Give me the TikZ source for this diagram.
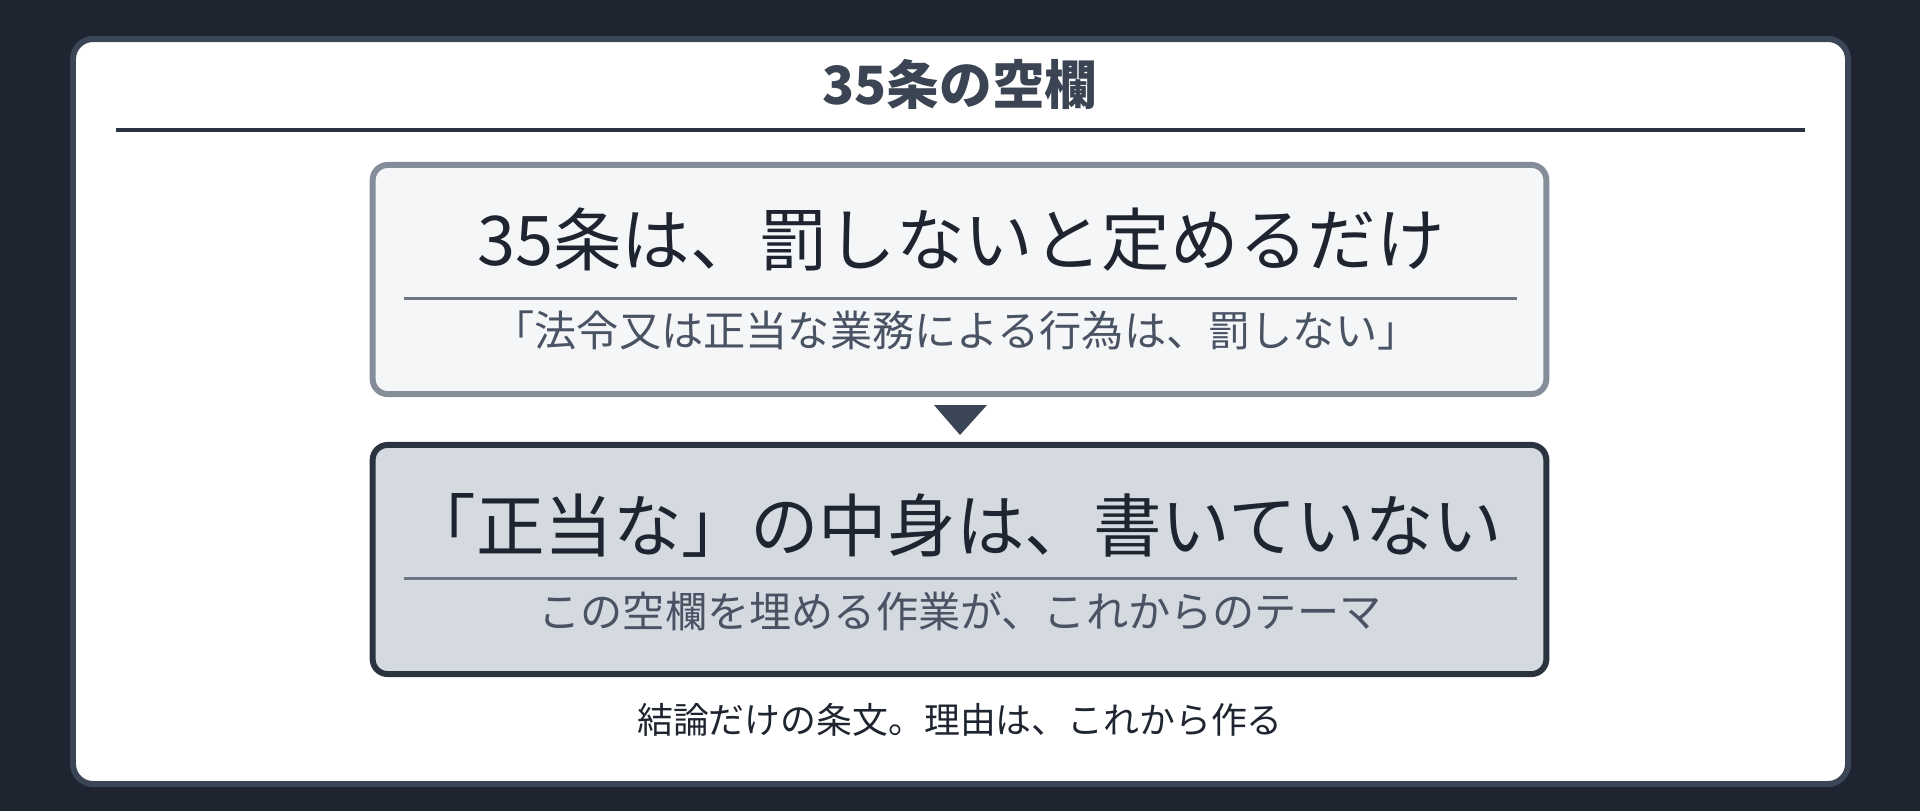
\documentclass[tikz,border=0pt]{standalone}
\usepackage{fontspec}
\setmainfont{Noto Sans CJK JP}
\definecolor{bgdark}{HTML}{1E2530}
\definecolor{cardedge}{HTML}{3A4556}
\definecolor{titleink}{HTML}{3A4453}
\definecolor{ruledark}{HTML}{2B3340}
\definecolor{boxonefill}{HTML}{F4F6F8}
\definecolor{boxoneedge}{HTML}{858D9A}
\definecolor{boxtwofill}{HTML}{D5DAE1}
\definecolor{boxtwoedge}{HTML}{2B3340}
\definecolor{dividergray}{HTML}{6E7684}
\definecolor{inkdark}{HTML}{1F2530}
\definecolor{inkgray}{HTML}{4A5363}
\begin{document}
\begin{tikzpicture}[x=0.01cm,y=-0.01cm]
  \tikzstyle{panel}=[draw=cardedge,fill=white,line width=1.7pt,rounded corners=0.2cm]
  \tikzstyle{stepbox}=[rectangle,rounded corners=0.15cm,line width=1.7pt,minimum width=11.73cm,minimum height=2.29cm,inner sep=0pt]
  \tikzstyle{headline}=[font=\fontsize{19.5}{24}\selectfont,text=inkdark,inner sep=0pt]
  \tikzstyle{subline}=[font=\fontsize{12}{15}\selectfont,text=inkgray,inner sep=0pt]
  \tikzstyle{divider}=[draw=dividergray,line width=0.85pt]

  % background
  \fill[bgdark] (0,0) rectangle (1920,811);
  \useasboundingbox (0,0) rectangle (1920,811);
  \draw[panel] (73,39) rectangle (1848,784);

  % title
  \node[font=\fontsize{15}{18}\selectfont\bfseries,text=titleink,inner sep=0pt] (title) at (960,84) {35条の空欄};
  \coordinate (titleruleL) at (116,130);
  \coordinate (titleruleR) at (1805,130);
  \draw[draw=ruledark,line width=1pt] (titleruleL) -- (titleruleR);

  % boxes
  \node[stepbox,draw=boxoneedge,fill=boxonefill] (rule35) at (959.5,279.5) {};
  \node[stepbox,draw=boxtwoedge,fill=boxtwofill] (blank) at (959.5,559.5) {};

  \node[headline] (rule35head) at (961,240) {35条は、罰しないと定めるだけ};
  \coordinate (rule35divL) at (404,298);
  \coordinate (rule35divR) at (1517,298);
  \draw[divider] (rule35divL) -- (rule35divR);
  \node[subline] (rule35text) at (956,330) {「法令又は正当な業務による行為は、罰しない」};

  \node[headline] (blankhead) at (955,525) {「正当な」の中身は、書いていない};
  \coordinate (blankdivL) at (404,578);
  \coordinate (blankdivR) at (1517,578);
  \draw[divider] (blankdivL) -- (blankdivR);
  \node[subline] (blanktext) at (960,611) {この空欄を埋める作業が、これからのテーマ};

  % arrow
  \coordinate (tip) at (960,435);
  \fill[cardedge] (934,405) -- (987,405) -- (tip) -- cycle;

  % footnote
  \node[font=\fontsize{10.2}{13}\selectfont,text=inkdark,inner sep=0pt] (footnote) at (960,720) {結論だけの条文。理由は、これから作る};
\end{tikzpicture}
\end{document}
